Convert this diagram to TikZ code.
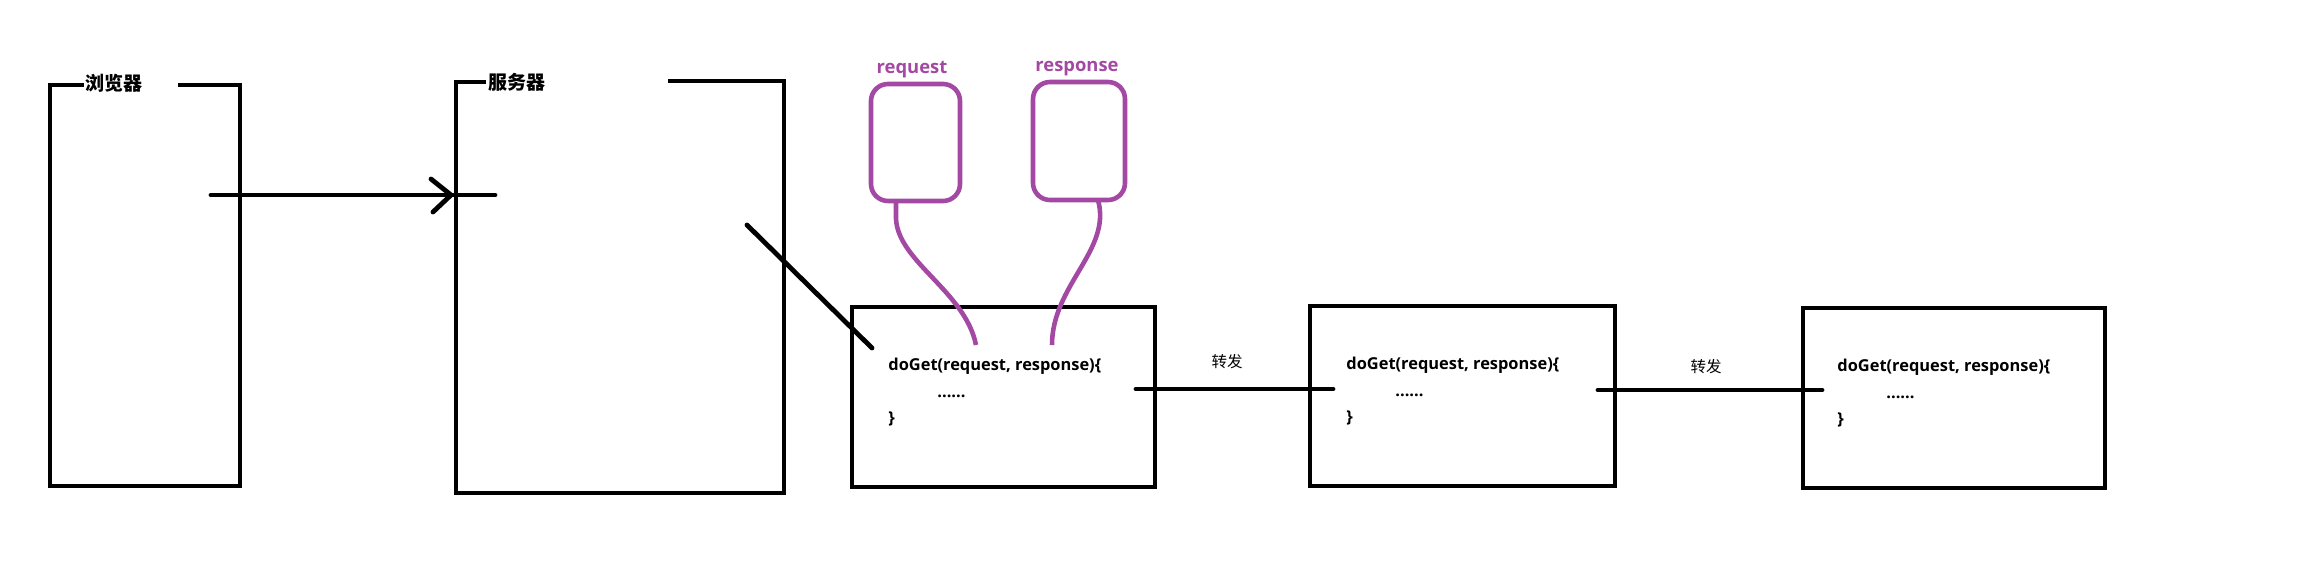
\documentclass[tikz,border=0pt]{standalone}
\usepackage{fontspec}
\setmainfont{Open Sans}
\newfontfamily\cjk{Noto Sans CJK SC}
\definecolor{pp}{HTML}{A349A4}
\begin{document}
\begin{tikzpicture}[x=0.5pt,y=-0.5pt,
  blk/.style={line width=2.4pt,draw=black},
  codebox/.style={blk,rectangle,inner sep=0pt,outer sep=0pt,minimum height=90pt},
  objbox/.style={line width=2.3pt,draw=pp,rectangle,rounded corners=8.5pt,inner sep=0pt,outer sep=0pt},
  objlabel/.style={text=pp,font=\bfseries\fontsize{9.2}{11}\selectfont,anchor=base,inner sep=0pt},
  code/.style={font=\bfseries\fontsize{8.2}{10}\selectfont,anchor=base west,inner sep=0pt},
  cjklabel/.style={font=\cjk\bfseries\fontsize{9.5}{11}\selectfont,inner sep=0pt},
  fwd/.style={font=\cjk\fontsize{7.75}{9}\selectfont,inner sep=0pt},
  wire/.style={line width=2.4pt,line cap=round},
  purplewire/.style={line width=2.3pt,draw=pp}]
\useasboundingbox (0,0) rectangle (2308,584);

% browser
\draw[blk] (84,85) -- (50,85) -- (50,486) -- (240,486) -- (240,85) -- (178,85);
\node[cjklabel] (browserlabel) at (113.5,83.5) {浏览器};
% server
\draw[blk] (486,82) -- (456,82) -- (456,493) -- (784,493) -- (784,81) -- (668,81);
\node[cjklabel] (serverlabel) at (516.5,82) {服务器};

% request arrow
\coordinate (a1) at (211,195);
\coordinate (a2) at (495,195);
\coordinate (atip) at (451,195);
\draw[wire] (a1) -- (a2);
\draw[wire] (431,179) -- (atip) -- (433,212);

% diagonal
\coordinate (d1) at (747,225);
\coordinate (d2) at (872,348);
\draw[wire] (d1) -- (d2);

% request / response objects
\node[objbox,minimum width=44.5pt,minimum height=58.5pt] (req) at (915.5,142.5) {};
\node[objbox,minimum width=46pt,minimum height=59pt] (resp) at (1079,141) {};
\node[objlabel] (reqlabel) at (912,73) {request};
\node[objlabel] (resplabel) at (1077,71) {response};

% code boxes
\node[codebox,minimum width=151.5pt] (box1) at (1003.5,397) {};
\node[codebox,minimum width=152.5pt] (box2) at (1462.5,396) {};
\node[codebox,minimum width=151pt] (box3) at (1954,398) {};

\foreach \b/\dx in {box1/36,box2/36,box3/34}{
  \node[code] (\b-l1) at ([shift={(\dx,-27)}]\b.west) {doGet(request, response)\{};
  \node[code] (\b-l2) at ([shift={(49,27)}]\b-l1.base west) {......};
  \node[code] (\b-l3) at ([shift={(\dx,26)}]\b.west) {\}};
}

% purple wires
\draw[purplewire] (req.south -| 896,0) -- (896,215) .. controls (894,260) and (965,290) .. (976,345);
\draw[purplewire] (resp.south -| 1098,0) .. controls (1112,250) and (1052,285) .. (1052,345);

% forward lines
\coordinate (f1a) at (1136,389);
\coordinate (f1b) at (1333,389);
\coordinate (f2a) at (1598,390);
\coordinate (f2b) at (1822,390);
\draw[wire] (f1a) -- (f1b);
\draw[wire] (f2a) -- (f2b);
\node[fwd] (fwd1) at (1227,362) {转发};
\node[fwd] (fwd2) at (1706,367) {转发};
\end{tikzpicture}
\end{document}
